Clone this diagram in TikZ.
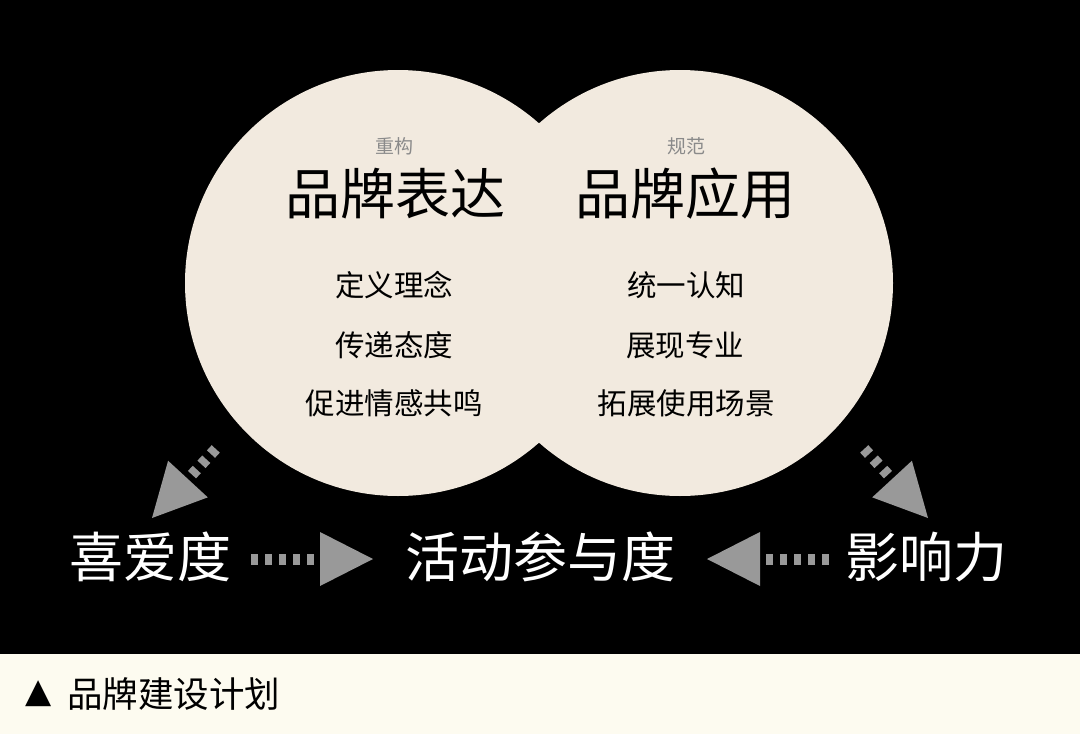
\documentclass[tikz,border=0pt]{standalone}
\usepackage{fontspec}
\setmainfont{Noto Sans CJK SC}
\newfontfamily\symfont{DejaVu Sans}
\definecolor{circ}{HTML}{F2EADF}
\definecolor{barcream}{HTML}{FDFBF0}
\definecolor{arrgray}{HTML}{999999}
\definecolor{subgray}{HTML}{8A8A8A}
\tikzset{
  pics/arrowfive/.style={code={
    \fill[arrgray] (-53,-27) -- (-53,27) -- (0,0) -- cycle;
    \foreach \d in {-122,-108,-94,-80,-66} \fill[arrgray] (\d,-5.5) rectangle ++(7,11);
  }},
  pics/arrowthree/.style={code={
    \fill[arrgray] (-53,-27) -- (-53,27) -- (0,0) -- cycle;
    \foreach \d in {-94,-80,-66} \fill[arrgray] (\d,-5.5) rectangle ++(7,11);
  }},
}
\begin{document}
\begin{tikzpicture}[x=1pt,y=-1pt,inner sep=0pt,
  sub/.style={text=subgray, font=\fontsize{19}{19}\selectfont},
  title/.style={text=black, font=\fontsize{55}{55}\selectfont},
  item/.style={text=black, font=\fontsize{29.5}{29.5}\selectfont},
  big/.style={text=white, font=\fontsize{54}{54}\selectfont},
  note/.style={text=black, font=\fontsize{35.5}{35.5}\selectfont}]
\useasboundingbox (0,0) rectangle (1080,734);
\fill[black] (0,0) rectangle (1080,654);
\fill[barcream] (0,654) rectangle (1080,734);
\fill[circ] (398,283) circle[radius=213];
\fill[circ] (680,283) circle[radius=213];

\node[sub] (s1) at (394,146) {重构};
\node[sub] (s2) at (686,146) {规范};
\node[title] (t1) at (395,194) {品牌表达};
\node[title] (t2) at (685,194) {品牌应用};
\node[item] (l1) at (394,285) {定义理念};
\node[item] (l2) at (394,345) {传递态度};
\node[item] (l3) at (394,403) {促进情感共鸣};
\node[item] (r1) at (686,285) {统一认知};
\node[item] (r2) at (685,345) {展现专业};
\node[item] (r3) at (686,403) {拓展使用场景};

\node[big] (b1) at (150,557) {喜爱度};
\node[big] (b2) at (540,557) {活动参与度};
\node[big] (b3) at (926,557) {影响力};

\pic at (373,559) {arrowfive};
\pic[rotate=180] at (707,559) {arrowfive};
\pic[rotate=227.3] at (152,518) {arrowthree};
\pic[rotate=-47.3] at (928,518) {arrowthree};

\node[text=black, font=\symfont\fontsize{34}{34}\selectfont] (tri) at (38.5,694) {▲};
\node[note, anchor=west] (n1) at (67,694) {品牌建设计划};
\end{tikzpicture}
\end{document}
